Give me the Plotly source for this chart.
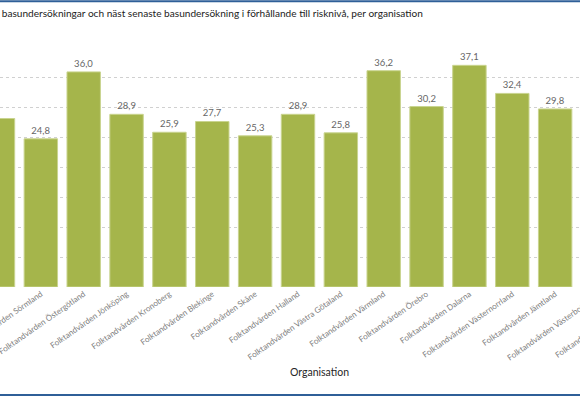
import plotly.graph_objects as go

# ---- data ----
categories = [
    "Folktandvården Uppsala",
    "Folktandvården Sörmland",
    "Folktandvården Östergötland",
    "Folktandvården Jönköping",
    "Folktandvården Kronoberg",
    "Folktandvården Blekinge",
    "Folktandvården Skåne",
    "Folktandvården Halland",
    "Folktandvården Västra Götaland",
    "Folktandvården Värmland",
    "Folktandvården Örebro",
    "Folktandvården Dalarna",
    "Folktandvården Västernorrland",
    "Folktandvården Jämtland",
]
values = [28.2, 24.8, 36.0, 28.9, 25.9, 27.7, 25.3, 28.9, 25.8, 36.2, 30.2, 37.1, 32.4, 29.8]
# categories that continue beyond the right edge of the cropped view
offscreen_categories = ["Folktandvården Västerbotten", "Folktandvården Norrbotten"]
y_ticks = [5, 10, 15, 20, 25, 30, 35]

title_text = ("basundersökningar och näst senaste basundersökning i förhållande till "
              "risknivå, per organisation")
axis_title = "Organisation"

W, H = 580, 397
FONT = "Lato, 'Open Sans', sans-serif"
x_range = [0.047, 13.58]
y_range = [0, 40]
M_T, M_B = 48, 110
PH = H - M_T - M_B
TICK_SIZE = 8.1


def py(pixel_y):
    """convert a pixel row of the page to a paper y fraction"""
    return (H - M_B - pixel_y) / PH


labels = [f"{v:.1f}".replace(".", ",") for v in values]

fig = go.Figure(go.Bar(
    x=categories,
    y=values,
    text=labels,
    textposition="outside",
    cliponaxis=False,
    textfont=dict(family=FONT, size=9.5, color="#666666"),
    marker=dict(color="#a5b54b", line=dict(color="#c9d48f", width=1)),
    hoverinfo="skip",
))

annotations = [
    dict(text=axis_title, xref="paper", yref="paper", x=319 / W, y=py(372),
         xanchor="center", yanchor="middle", showarrow=False,
         font=dict(family=FONT, size=10.5, color="#262626")),
]
span = x_range[1] - x_range[0]
for i, name in enumerate(offscreen_categories):
    idx = len(categories) + i
    annotations.append(dict(
        text=name, xref="paper", yref="paper",
        x=(idx - x_range[0]) / span, y=py(293),
        xanchor="right", yanchor="top", textangle=-35, showarrow=False,
        font=dict(family=FONT, size=TICK_SIZE, color="#7f7f7f")))

shapes = [
    dict(type="line", xref="paper", yref="paper", x0=0, x1=1,
         y0=py(1.2), y1=py(1.2), line=dict(color="#2f5f98", width=2)),
    dict(type="line", xref="paper", yref="paper", x0=0, x1=1,
         y0=py(395), y1=py(395), line=dict(color="#2f5f98", width=2)),
]

fig.update_layout(
    width=W, height=H,
    margin=dict(l=0, r=0, t=M_T, b=M_B, autoexpand=False),
    paper_bgcolor="white", plot_bgcolor="white",
    showlegend=False,
    bargap=0.22,
    title=dict(text=title_text, x=0.003, xanchor="left", xref="container",
               y=1 - 13 / H, yref="container", yanchor="middle",
               font=dict(family=FONT, size=10.1, color="#222222")),
    xaxis=dict(range=x_range, tickangle=-35, showgrid=False, showline=False,
               automargin=False,
               ticks="", tickfont=dict(family=FONT, size=TICK_SIZE, color="#7f7f7f")),
    yaxis=dict(range=y_range, tickvals=y_ticks, showticklabels=False,
               automargin=False,
               showgrid=True, gridcolor="#d0d0d0", griddash="dot", gridwidth=1,
               zeroline=False, showline=False),
    annotations=annotations,
    shapes=shapes,
)

# remove the browser's default page margin so the figure sits at the window's corner
fig.write_html("out.html", config={"displayModeBar": False},
               post_script="document.body.style.margin='0';")
